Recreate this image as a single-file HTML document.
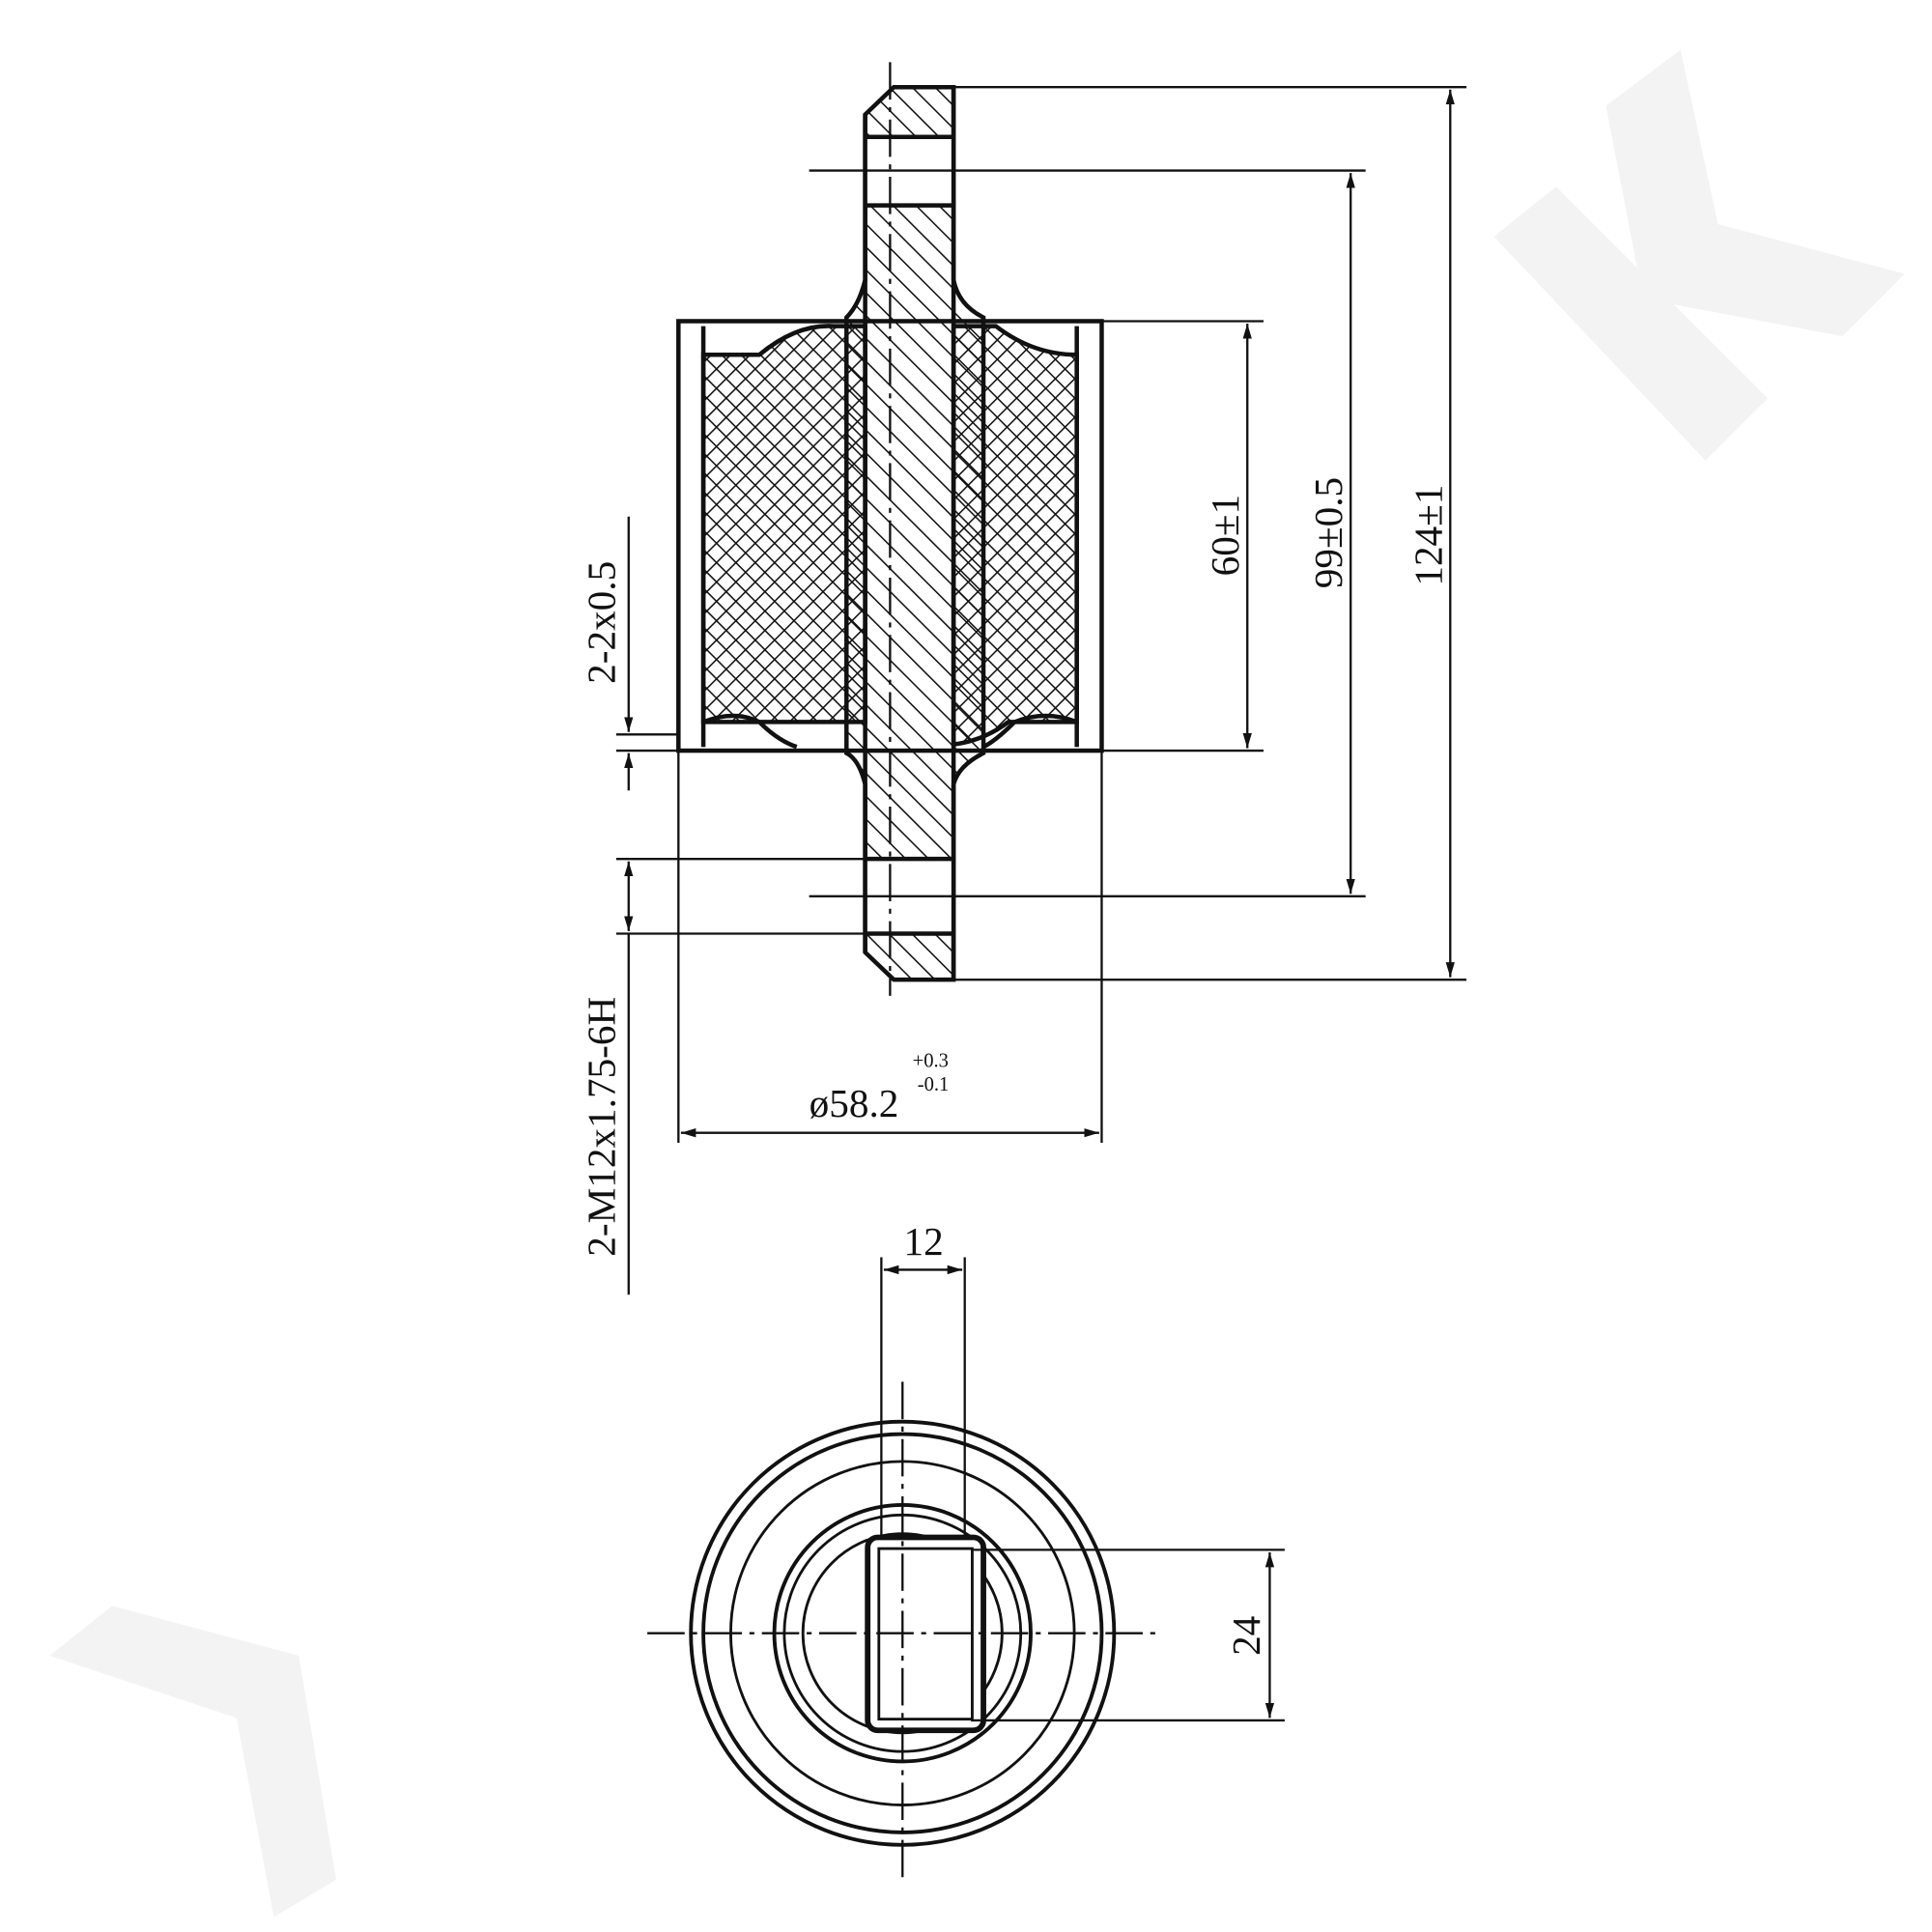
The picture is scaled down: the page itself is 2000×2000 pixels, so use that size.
<!DOCTYPE html>
<html><head><meta charset="utf-8"><style>
html,body{margin:0;padding:0;background:#fff}
svg{display:block}
text{font-family:"Liberation Serif",serif;fill:#111}
</style></head><body>
<svg width="2000" height="2000" viewBox="0 0 1552 1552" xmlns="http://www.w3.org/2000/svg">
<defs>
<pattern id="h" width="13" height="13" patternUnits="userSpaceOnUse" patternTransform="rotate(-45)">
<line x1="0" y1="0" x2="0" y2="13" stroke="#111" stroke-width="2.4"/></pattern>
<pattern id="x" width="11" height="11" patternUnits="userSpaceOnUse" patternTransform="rotate(45)">
<line x1="0" y1="0" x2="0" y2="11" stroke="#111" stroke-width="2.4"/>
<line x1="0" y1="0" x2="11" y2="0" stroke="#111" stroke-width="2.4"/></pattern>
<marker id="a" viewBox="0 0 10 10" refX="10" refY="5" markerWidth="12" markerHeight="12" orient="auto-start-reverse" markerUnits="userSpaceOnUse"><path d="M0,2 L10,5 L0,8 z" fill="#111"/></marker>
</defs>
<g fill="#f3f3f3">
<polygon points="1290,85 1350,40 1380,180 1530,220 1480,270 1320,240"/>
<polygon points="1200,190 1250,150 1420,320 1370,370"/>
<polygon points="40,1330 90,1290 240,1330 270,1510 220,1540 190,1380"/>
</g>
<g stroke="#111" fill="none" stroke-width="3.5">
<rect x="545" y="258" width="340" height="345" fill="#fff"/>
<path d="M565,285 L610,285 Q640,260 670,262 L695,262 L695,580 L670,580 Q640,580 610,580 L565,580 Z" fill="url(#x)"/>
<path d="M766,262 L800,262 Q830,285 865,285 L865,580 L810,580 Q790,595 766,598 Z" fill="url(#x)"/>
<line x1="565" y1="262" x2="565" y2="600"/>
<line x1="865" y1="262" x2="865" y2="600"/>
<path d="M565,580 Q590,570 610,580 Q625,595 640,600"/>
<path d="M865,580 Q840,570 815,580 Q800,595 790,600"/>
<path d="M718,70 L766,70 L766,225 Q770,245 790,255 L790,605 Q770,615 766,630 L766,787 L718,787 L695,765 L695,630 Q690,610 680,605 L680,255 Q690,245 695,225 L695,92 Z" fill="url(#h)"/>
<rect x="695" y="110" width="71" height="55" fill="#fff" stroke="none"/>
<rect x="695" y="690" width="71" height="60" fill="#fff" stroke="none"/>
<line x1="695" y1="92" x2="695" y2="765"/>
<line x1="766" y1="70" x2="766" y2="787"/>
<line x1="695" y1="110" x2="766" y2="110"/><line x1="695" y1="165" x2="766" y2="165"/>
<line x1="695" y1="690" x2="766" y2="690"/><line x1="695" y1="750" x2="766" y2="750"/>
</g>
<line x1="715" y1="50" x2="715" y2="800" stroke="#111" stroke-width="1.8" stroke-dasharray="30,6,4,6"/>
<g stroke="#111" stroke-width="1.8" fill="none">
<line x1="766" y1="70" x2="1178" y2="70"/><line x1="766" y1="787" x2="1178" y2="787"/>
<line x1="1165" y1="72" x2="1165" y2="785" marker-start="url(#a)" marker-end="url(#a)"/>
<line x1="650" y1="137" x2="1097" y2="137"/><line x1="650" y1="720" x2="1097" y2="720"/>
<line x1="1085" y1="139" x2="1085" y2="718" marker-start="url(#a)" marker-end="url(#a)"/>
<line x1="885" y1="258" x2="1015" y2="258"/><line x1="885" y1="603" x2="1015" y2="603"/>
<line x1="1002" y1="260" x2="1002" y2="601" marker-start="url(#a)" marker-end="url(#a)"/>
<line x1="545" y1="603" x2="545" y2="918"/><line x1="885" y1="603" x2="885" y2="918"/>
<line x1="547" y1="910" x2="883" y2="910" marker-start="url(#a)" marker-end="url(#a)"/>
<line x1="495" y1="590" x2="545" y2="590"/><line x1="495" y1="603" x2="545" y2="603"/>
<line x1="505" y1="415" x2="505" y2="588" marker-end="url(#a)"/>
<line x1="505" y1="635" x2="505" y2="605" marker-end="url(#a)"/>
<line x1="495" y1="690" x2="695" y2="690"/><line x1="495" y1="750" x2="695" y2="750"/>
<line x1="505" y1="692" x2="505" y2="748" marker-start="url(#a)" marker-end="url(#a)"/>
<line x1="505" y1="750" x2="505" y2="1040"/>
</g>
<text x="995" y="430" font-size="32" transform="rotate(-90 995 430)" text-anchor="middle">60±1</text>
<text x="1078" y="428" font-size="32" transform="rotate(-90 1078 428)" text-anchor="middle">99±0.5</text>
<text x="1158" y="430" font-size="32" transform="rotate(-90 1158 430)" text-anchor="middle">124±1</text>
<text x="494" y="500" font-size="32" transform="rotate(-90 494 500)" text-anchor="middle">2-2x0.5</text>
<text x="494" y="905" font-size="32" transform="rotate(-90 494 905)" text-anchor="middle">2-M12x1.75-6H</text>
<text x="650" y="897" font-size="32">ø58.2</text>
<text x="733" y="857" font-size="16">+0.3</text>
<text x="737" y="876" font-size="16">-0.1</text>
<g stroke="#111" fill="none" stroke-width="3">
<circle cx="725" cy="1312" r="170"/>
<circle cx="725" cy="1312" r="160"/>
<circle cx="725" cy="1312" r="138" stroke-width="2.2"/>
<circle cx="725" cy="1312" r="103"/>
<circle cx="725" cy="1312" r="95" stroke-width="2.2"/>
<circle cx="725" cy="1312" r="80" stroke-width="2.2"/>
<rect x="697" y="1235" width="93" height="155" rx="8" fill="#fff" stroke-width="4.5"/>
<rect x="706" y="1244" width="75" height="137" stroke-width="2.2"/>
</g>
<g stroke="#111" stroke-width="1.8" fill="none">
<line x1="520" y1="1312" x2="930" y2="1312" stroke-dasharray="30,6,4,6"/>
<line x1="725" y1="1110" x2="725" y2="1510" stroke-dasharray="30,6,4,6"/>
<line x1="708" y1="1010" x2="708" y2="1235"/><line x1="775" y1="1010" x2="775" y2="1235"/>
<line x1="710" y1="1020" x2="773" y2="1020" marker-start="url(#a)" marker-end="url(#a)"/>
<line x1="780" y1="1245" x2="1032" y2="1245"/><line x1="780" y1="1382" x2="1032" y2="1382"/>
<line x1="1020" y1="1247" x2="1020" y2="1380" marker-start="url(#a)" marker-end="url(#a)"/>
</g>
<text x="742" y="1008" font-size="32" text-anchor="middle">12</text>
<text x="1012" y="1314" font-size="32" transform="rotate(-90 1012 1314)" text-anchor="middle">24</text>
</svg>
</body></html>
